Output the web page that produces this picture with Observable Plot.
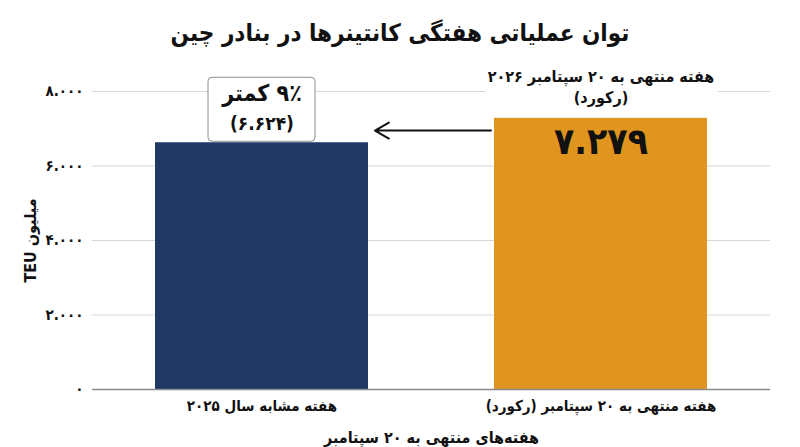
<!DOCTYPE html>
<html>
<head>
<meta charset="utf-8">
<script src="https://cdn.jsdelivr.net/npm/d3@7"></script>
<script src="https://cdn.jsdelivr.net/npm/@observablehq/plot@0.6"></script>
<style>
  html, body { margin: 0; padding: 0; background: #fff; }
  #title { height: 54px; padding-top: 6px; line-height: 54px; text-align: center; direction: rtl;
    font-family: "DejaVu Sans Condensed", "DejaVu Sans", sans-serif; font-weight: bold; font-size: 24px; color: #111; }
  #chart svg { display: block; }
</style>
</head>
<body>
<div id="title">توان عملیاتی هفتگی کانتینرها در بنادر چین</div>
<div id="chart"></div>
<script>
const categories = ["هفته مشابه سال ۲۰۲۵", "هفته منتهی به ۲۰ سپتامبر (رکورد)"];
const values = [6624, 7279];
const barColors = ["#203864", "#e0951f"];
const yTicks = [0, 2000, 4000, 6000, 8000];
const changeLabel = "۹٪ کمتر";
const prevValueLabel = "(۶.۶۲۴)";
const recordValueLabel = "۷.۲۷۹";
const recordTitleLines = ["هفته منتهی به ۲۰ سپتامبر ۲۰۲۶", "(رکورد)"];
const yLabel = "میلیون TEU";
const xLabel = "هفته‌های منتهی به ۲۰ سپتامبر";

const rtl = s => "\u202B" + s + "\u202C";
const fa = s => String(s).replace(/\d/g, d => "۰۱۲۳۴۵۶۷۸۹"[d]);
const fmt = d => fa(d3.format(",")(d).replace(/,/g, "."));

const data = categories.map((c, i) => ({cat: c, value: values[i], color: barColors[i]}));
const prev = [data[0]];
const rec = [data[1]];
const mid = (values[0] + values[1]) / 2;

const font = "DejaVu Sans Condensed, DejaVu Sans, sans-serif";

const chart = Plot.plot({
  width: 800,
  height: 387,
  marginTop: 31,
  marginBottom: 58,
  marginLeft: 92,
  marginRight: 30,
  style: {fontFamily: font, fontSize: "13px", color: "#111", background: "#fff"},
  x: {domain: categories, paddingInner: 0.372, paddingOuter: 0.186, label: null},
  y: {domain: [0, 8000], label: null},
  color: {type: "identity"},
  marks: [
    Plot.gridY(yTicks, {stroke: "#d6d6d6", strokeOpacity: 1, strokeWidth: 1}),
    Plot.axisY({ticks: yTicks, tickSize: 0, tickPadding: 9, tickFormat: fmt, fontWeight: "bold", fontSize: 15, label: null}),
    Plot.axisX({tickSize: 0, tickPadding: 11, tickFormat: d => rtl(d), fontWeight: "bold", fontSize: 15, label: null}),
    Plot.barY(data, {x: "cat", y: "value", fill: "color"}),
    Plot.ruleY([0], {stroke: "#8a8a8a", strokeWidth: 1.5}),
    // white backdrop for record title
    Plot.barY(rec, {x: "cat", y1: "value", y2: "value", insetTop: -60, insetBottom: 12, insetLeft: -9, insetRight: -11, fill: "white"}),
    Plot.text(rec, {x: "cat", y: "value", text: () => rtl(recordTitleLines[0]), dy: -41, fontSize: 16, fontWeight: "bold", fill: "#111"}),
    Plot.text(rec, {x: "cat", y: "value", text: () => rtl(recordTitleLines[1]), dy: -20, fontSize: 16, fontWeight: "bold", fill: "#111"}),
    Plot.text(rec, {x: "cat", y: "value", text: () => recordValueLabel, dy: 24, fontSize: 37, fontWeight: "bold", fill: "#111"}),
    // box above previous year's bar
    Plot.barY(prev, {x: "cat", y1: "value", y2: "value", insetTop: -65, insetBottom: 1, insetLeft: 53, insetRight: 53, fill: "white", stroke: "#8c8c8c", strokeWidth: 1, rx: 4}),
    Plot.text(prev, {x: "cat", y: "value", text: () => rtl(changeLabel), dy: -49, fontSize: 23, fontWeight: "bold", fill: "#111"}),
    Plot.text(prev, {x: "cat", y: "value", text: () => prevValueLabel, dy: -19, fontSize: 19, fontWeight: "bold", fill: "#111"}),
    // arrow
    Plot.arrow([{from: categories[1], to: categories[0], y: mid}], {x1: "from", x2: "to", y: "y", insetStart: 110, insetEnd: 113, stroke: "#111", strokeWidth: 2, headLength: 12, headAngle: 60, bend: 0}),
    // axis labels
    Plot.text([yLabel], {text: d => rtl(d), frameAnchor: "left", textAnchor: "middle", rotate: -90, dx: -62, fontSize: 16, fontWeight: "bold", fill: "#111"}),
    Plot.text([xLabel], {text: d => rtl(d), frameAnchor: "bottom", dy: 53, fontSize: 16, fontWeight: "bold", fill: "#111"})
  ]
});
document.getElementById("chart").appendChild(chart);
</script>
</body>
</html>
